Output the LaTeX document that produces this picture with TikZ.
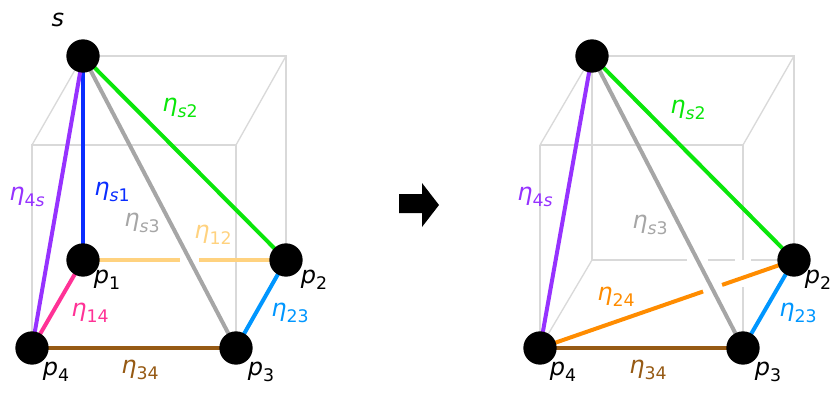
\documentclass[tikz,border=0pt]{standalone}
\usepackage{fontspec}
\setmainfont{DejaVu Sans}
\usetikzlibrary{calc,backgrounds}
\definecolor{cubegray}{RGB}{217,217,217}
\definecolor{cS1}{RGB}{10,45,255}
\definecolor{cS2}{RGB}{10,230,10}
\definecolor{cS3}{RGB}{166,166,166}
\definecolor{cS4}{RGB}{150,50,255}
\definecolor{c12}{RGB}{255,210,127}
\definecolor{c14}{RGB}{255,50,150}
\definecolor{c23}{RGB}{0,150,255}
\definecolor{c34}{RGB}{150,90,20}
\definecolor{c24}{RGB}{255,140,0}
\newcommand{\etalbl}[1]{{\itshape η}\raisebox{-0.45ex}{\fontsize{13}{14}\selectfont #1}}
\newcommand{\plbl}[1]{{\itshape p}\raisebox{-0.45ex}{\fontsize{13}{14}\selectfont #1}}
\tikzset{
  vtx/.style={circle, fill=black, minimum size=25pt, inner sep=0pt},
  cubeline/.style={draw=cubegray, line width=1pt},
  edgeline/.style={line width=3pt},
  lbl/.style={font=\fontsize{18}{21}\selectfont, inner sep=0pt}
}
\begin{document}
\begin{tikzpicture}[x=0.75pt,y=-0.75pt]
\useasboundingbox (0,0) rectangle (833,394);
% ---------- left diagram ----------
\node[vtx] (s) at (83,56) {};
\node[vtx] (p1) at (83,260) {};
\node[vtx] (p2) at (286,260) {};
\node[vtx] (p3) at (236,348) {};
\node[vtx] (p4) at (32,348) {};
\coordinate (lb2) at (286,56);
\coordinate (lf1) at (32,145);
\coordinate (lf2) at (236,145);
\coordinate (g12a) at ($(p1.center)!0.478!(p2.center)$);
\coordinate (g12b) at ($(p1.center)!0.571!(p2.center)$);
% ---------- right diagram ----------
\node[vtx] (rs) at (592,56) {};
\node[vtx] (rp2) at (794,260) {};
\node[vtx] (rp3) at (743,348) {};
\node[vtx] (rp4) at (540,348) {};
\coordinate (rp1) at (592,260);
\coordinate (rb2) at (794,56);
\coordinate (rf1) at (540,145);
\coordinate (rf2) at (743,145);
\coordinate (rga) at (687,260);
\coordinate (rgb) at (708,260);
\coordinate (rgc) at (735,260);
\coordinate (rgd) at (751,260);
\coordinate (rgv1) at (743,260);
\coordinate (rgv2) at (743,287);
\coordinate (g24a) at ($(rp4.center)!0.642!(rp2.center)$);
\coordinate (g24b) at ($(rp4.center)!0.717!(rp2.center)$);
\begin{pgfonlayer}{background}
  % left cube
  \draw[cubeline] (s.center) -- (lb2) -- (p2.center);
  \draw[cubeline] (s.center) -- (p1.center);
  \draw[cubeline] (lf1) -- (lf2) -- (p3.center) -- (p4.center) -- cycle;
  \draw[cubeline] (s.center) -- (lf1);
  \draw[cubeline] (lb2) -- (lf2);
  \draw[cubeline] (p2.center) -- (p3.center);
  \draw[cubeline] (p1.center) -- (p4.center);
  % left edges
  \draw[edgeline, cS1] (s.center) -- (p1.center);
  \draw[edgeline, cS2] (s.center) -- (p2.center);
  \draw[edgeline, cS3] (s.center) -- (p3.center);
  \draw[edgeline, cS4] (s.center) -- (p4.center);
  \draw[edgeline, c12] (p1.center) -- (g12a);
  \draw[edgeline, c12] (g12b) -- (p2.center);
  \draw[edgeline, c14] (p1.center) -- (p4.center);
  \draw[edgeline, c23] (p2.center) -- (p3.center);
  \draw[edgeline, c34] (p3.center) -- (p4.center);
  % right cube
  \draw[cubeline] (rs.center) -- (rb2) -- (rp2.center);
  \draw[cubeline] (rs.center) -- (rp1);
  \draw[cubeline] (rp1) -- (rga);
  \draw[cubeline] (rgb) -- (rgc);
  \draw[cubeline] (rgd) -- (rp2.center);
  \draw[cubeline] (rf1) -- (rf2) -- (rgv1);
  \draw[cubeline] (rgv2) -- (rp3.center) -- (rp4.center) -- (rf1);
  \draw[cubeline] (rs.center) -- (rf1);
  \draw[cubeline] (rb2) -- (rf2);
  \draw[cubeline] (rp1) -- (rp4.center);
  \draw[cubeline] (rp2.center) -- (rp3.center);
  % right edges
  \draw[edgeline, cS2] (rs.center) -- (rp2.center);
  \draw[edgeline, cS3] (rs.center) -- (rp3.center);
  \draw[edgeline, cS4] (rs.center) -- (rp4.center);
  \draw[edgeline, c24] (rp4.center) -- (g24a);
  \draw[edgeline, c24] (g24b) -- (rp2.center);
  \draw[edgeline, c23] (rp2.center) -- (rp3.center);
  \draw[edgeline, c34] (rp3.center) -- (rp4.center);
\end{pgfonlayer}
% left labels
\node[lbl] (ls) at (58,20) {\itshape s};
\node[lbl] (lp1) at (107,280) {\plbl{1}};
\node[lbl] (lp2) at (314,280) {\plbl{2}};
\node[lbl] (lp3) at (261,372) {\plbl{3}};
\node[lbl] (lp4) at (56,372) {\plbl{4}};
\node[lbl, text=cS1] (ls1) at (112,192) {\etalbl{{\itshape s}1}};
\node[lbl, text=cS2] (ls2) at (180,108) {\etalbl{{\itshape s}2}};
\node[lbl, text=cS3] (ls3) at (142,223) {\etalbl{{\itshape s}3}};
\node[lbl, text=cS4] (l4s) at (27,197) {\etalbl{4{\itshape s}}};
\node[lbl, text=c12] (l12) at (213,235) {\etalbl{12}};
\node[lbl, text=c14] (l14) at (90,313) {\etalbl{14}};
\node[lbl, text=c23] (l23) at (290,313) {\etalbl{23}};
\node[lbl, text=c34] (l34) at (140,370) {\etalbl{34}};
% right labels
\node[lbl] (rlp2) at (818,280) {\plbl{2}};
\node[lbl] (rlp3) at (768,372) {\plbl{3}};
\node[lbl] (rlp4) at (563,372) {\plbl{4}};
\node[lbl, text=cS2] (rls2) at (688,110) {\etalbl{{\itshape s}2}};
\node[lbl, text=cS3] (rls3) at (650,225) {\etalbl{{\itshape s}3}};
\node[lbl, text=cS4] (rl4s) at (535,197) {\etalbl{4{\itshape s}}};
\node[lbl, text=c24] (rl24) at (616,297) {\etalbl{24}};
\node[lbl, text=c23] (rl23) at (798,313) {\etalbl{23}};
\node[lbl, text=c34] (rl34) at (648,370) {\etalbl{34}};
% arrow
\fill[black] (399,194) -- (422,194) -- (422,183) -- (439,205) -- (422,227) -- (422,213) -- (399,213) -- cycle;
\end{tikzpicture}
\end{document}
